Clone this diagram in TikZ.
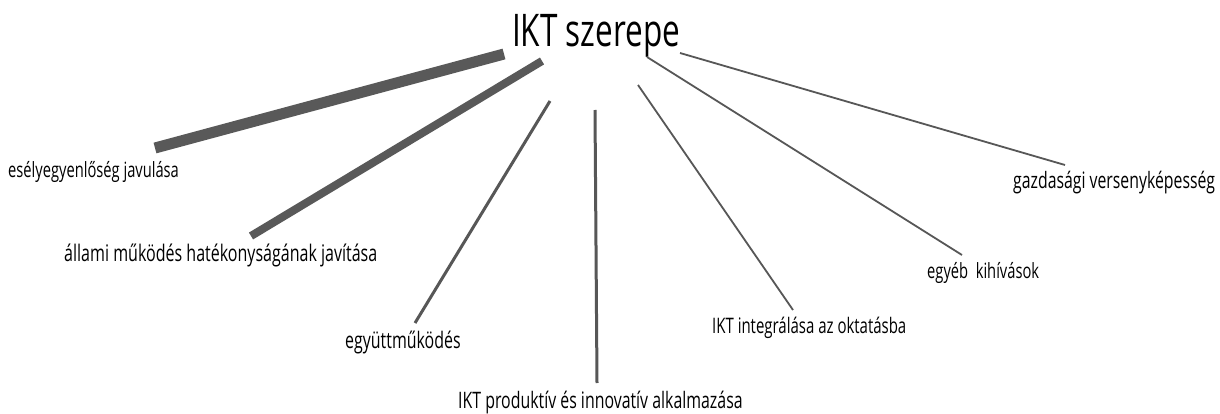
\documentclass[tikz,border=0pt]{standalone}
\usepackage{fontspec}
\newfontfamily\lblfont[FakeStretch=0.70]{Open Sans}
\begin{document}
\begin{tikzpicture}[x=1pt,y=-1pt,
  lbl/.style={inner sep=0pt,anchor=base west,font=\lblfont\fontsize{#1}{24}\selectfont,text=black},
  lbl/.default=21,
  ttl/.style={inner sep=0pt,anchor=base west,font=\lblfont\fontsize{45}{50}\selectfont,text=black},
  conn/.style={draw=black!66,line cap=butt}]
\useasboundingbox[fill=white] (0,0) rectangle (1220,414);
\node[ttl] (title) at (512,47) {IKT szerepe};
\node[lbl] (esely) at (8,178) {esélyegyenlőség javulása};
\node[lbl=22.9] (allami) at (64,261) {állami működés hatékonyságának javítása};
\node[lbl=22.8] (egyutt) at (345,348) {együttműködés};
\node[lbl=22.7] (produkt) at (458,408) {IKT produktív és innovatív alkalmazása};
\node[lbl=21.4] (integr) at (712,333) {IKT integrálása az oktatásba};
\node[lbl] (egyeb) at (927,278) {egyéb\ \ kihívások};
\node[lbl=22.6] (gazd) at (1013,189) {gazdasági versenyképesség};
\coordinate (t1) at (504,54);  \coordinate (e1) at (155,148);
\coordinate (t2) at (542,61);  \coordinate (e2) at (251,236);
\coordinate (t3) at (550,101); \coordinate (e3) at (415,323);
\coordinate (t4) at (595,110); \coordinate (e4) at (597,383);
\coordinate (t5) at (638,85);  \coordinate (e5) at (793,310);
\coordinate (t6) at (647,57);  \coordinate (e6) at (962,255);
\coordinate (t7) at (680,53);  \coordinate (e7) at (1065,165);
\draw[conn,line width=11pt,draw=black!65] (t1) -- (e1);
\draw[conn,line width=8pt,draw=black!65] (t2) -- (e2);
\draw[conn,line width=3pt] (t3) -- (e3);
\draw[conn,line width=3pt] (t4) -- (e4);
\draw[conn,line width=1.8pt] (t5) -- (e5);
\draw[conn,line width=1.8pt] (t6) -- (e6);
\draw[conn,line width=1.8pt] (t7) -- (e7);
\end{tikzpicture}
\end{document}
